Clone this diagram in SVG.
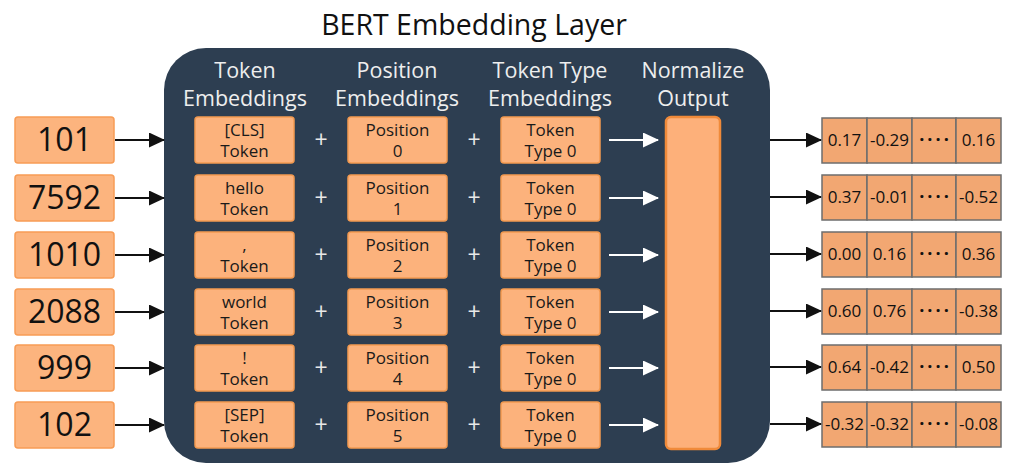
<svg xmlns="http://www.w3.org/2000/svg" width="1013" height="464" viewBox="0 0 1013 464">
  <defs>
    <style>
      text { font-family: "Open Sans", "Noto Sans", "DejaVu Sans", sans-serif; }
      .title { font-size: 28.5px; fill: #111; text-anchor: middle; }
      .head { font-size: 21.5px; fill: #eeeeee; text-anchor: middle; }
      .inbox { fill: #fcb47e; stroke: #f79c55; stroke-width: 1.5; }
      .innum { font-size: 32px; fill: #111; text-anchor: middle; }
      .emb { fill: #fcb27c; stroke: #f39a50; stroke-width: 1.5; }
      .embtxt { font-size: 17px; fill: #1a1a1a; text-anchor: middle; }
      .plus { font-size: 23px; fill: #e8e8e8; text-anchor: middle; }
      .norm { fill: #fdb07a; stroke: #f08a3a; stroke-width: 2.5; }
      .cell { fill: #f2a772; stroke: #6e6e6e; stroke-width: 1.5; }
      .celltxt { font-size: 17px; fill: #111; text-anchor: middle; }
      .dots { font-size: 18px; font-weight: bold; fill: #111; text-anchor: middle; letter-spacing: 3px; }
      .blk { stroke: #111; stroke-width: 2; fill: none; }
      .wht { stroke: #ffffff; stroke-width: 2; fill: none; }
    </style>
    <marker id="ah-black" markerWidth="16" markerHeight="15" refX="15" refY="7.5" orient="auto" markerUnits="userSpaceOnUse">
      <path d="M0,0 L16,7.5 L0,15 Z" fill="#111"/>
    </marker>
    <marker id="ah-white" markerWidth="16" markerHeight="15" refX="15" refY="7.5" orient="auto" markerUnits="userSpaceOnUse">
      <path d="M0,0 L16,7.5 L0,15 Z" fill="#ffffff"/>
    </marker>
  </defs>

  <rect width="1013" height="464" fill="#ffffff"/>

  <!-- layer panel -->
  <g id="panel">
    <rect x="164" y="48" width="606" height="415" rx="42" ry="42" fill="#2d3e51"/>
    <text class="title" x="474" y="35">BERT Embedding Layer</text>
    <text class="head" x="245" y="78">Token</text>
    <text class="head" x="245" y="106">Embeddings</text>
    <text class="head" x="397" y="78">Position</text>
    <text class="head" x="397" y="106">Embeddings</text>
    <text class="head" x="550" y="78">Token Type</text>
    <text class="head" x="550" y="106">Embeddings</text>
    <text class="head" x="693" y="78">Normalize</text>
    <text class="head" x="693" y="106">Output</text>
  </g>

  <!-- input ids -->
  <g id="inputs">
    <g id="in0"><rect class="inbox" x="15" y="117" width="99" height="46" rx="3"/><text class="innum" x="64.5" y="151">101</text></g>
    <g id="in1"><rect class="inbox" x="15" y="175" width="99" height="46" rx="3"/><text class="innum" x="64.5" y="209">7592</text></g>
    <g id="in2"><rect class="inbox" x="15" y="232" width="99" height="46" rx="3"/><text class="innum" x="64.5" y="266">1010</text></g>
    <g id="in3"><rect class="inbox" x="15" y="289" width="99" height="46" rx="3"/><text class="innum" x="64.5" y="323">2088</text></g>
    <g id="in4"><rect class="inbox" x="15" y="345" width="99" height="46" rx="3"/><text class="innum" x="64.5" y="379">999</text></g>
    <g id="in5"><rect class="inbox" x="15" y="402" width="99" height="46" rx="3"/><text class="innum" x="64.5" y="436">102</text></g>
  </g>

  <!-- token embeddings -->
  <g id="token-emb">
    <g id="tok0"><rect class="emb" x="195" y="117" width="99" height="46" rx="3"/><text class="embtxt" x="244.5" y="136">[CLS]</text><text class="embtxt" x="244.5" y="157">Token</text></g>
    <g id="tok1"><rect class="emb" x="195" y="175" width="99" height="46" rx="3"/><text class="embtxt" x="244.5" y="194">hello</text><text class="embtxt" x="244.5" y="215">Token</text></g>
    <g id="tok2"><rect class="emb" x="195" y="232" width="99" height="46" rx="3"/><text class="embtxt" x="244.5" y="251">,</text><text class="embtxt" x="244.5" y="272">Token</text></g>
    <g id="tok3"><rect class="emb" x="195" y="289" width="99" height="46" rx="3"/><text class="embtxt" x="244.5" y="308">world</text><text class="embtxt" x="244.5" y="329">Token</text></g>
    <g id="tok4"><rect class="emb" x="195" y="345" width="99" height="46" rx="3"/><text class="embtxt" x="244.5" y="364">!</text><text class="embtxt" x="244.5" y="385">Token</text></g>
    <g id="tok5"><rect class="emb" x="195" y="402" width="99" height="46" rx="3"/><text class="embtxt" x="244.5" y="421">[SEP]</text><text class="embtxt" x="244.5" y="442">Token</text></g>
  </g>

  <!-- position embeddings -->
  <g id="pos-emb">
    <g id="pos0"><rect class="emb" x="348" y="117" width="99" height="46" rx="3"/><text class="embtxt" x="397.5" y="136">Position</text><text class="embtxt" x="397.5" y="157">0</text></g>
    <g id="pos1"><rect class="emb" x="348" y="175" width="99" height="46" rx="3"/><text class="embtxt" x="397.5" y="194">Position</text><text class="embtxt" x="397.5" y="215">1</text></g>
    <g id="pos2"><rect class="emb" x="348" y="232" width="99" height="46" rx="3"/><text class="embtxt" x="397.5" y="251">Position</text><text class="embtxt" x="397.5" y="272">2</text></g>
    <g id="pos3"><rect class="emb" x="348" y="289" width="99" height="46" rx="3"/><text class="embtxt" x="397.5" y="308">Position</text><text class="embtxt" x="397.5" y="329">3</text></g>
    <g id="pos4"><rect class="emb" x="348" y="345" width="99" height="46" rx="3"/><text class="embtxt" x="397.5" y="364">Position</text><text class="embtxt" x="397.5" y="385">4</text></g>
    <g id="pos5"><rect class="emb" x="348" y="402" width="99" height="46" rx="3"/><text class="embtxt" x="397.5" y="421">Position</text><text class="embtxt" x="397.5" y="442">5</text></g>
  </g>

  <!-- token type embeddings -->
  <g id="type-emb">
    <g id="typ0"><rect class="emb" x="501" y="117" width="99" height="46" rx="3"/><text class="embtxt" x="550.5" y="136">Token</text><text class="embtxt" x="550.5" y="157">Type 0</text></g>
    <g id="typ1"><rect class="emb" x="501" y="175" width="99" height="46" rx="3"/><text class="embtxt" x="550.5" y="194">Token</text><text class="embtxt" x="550.5" y="215">Type 0</text></g>
    <g id="typ2"><rect class="emb" x="501" y="232" width="99" height="46" rx="3"/><text class="embtxt" x="550.5" y="251">Token</text><text class="embtxt" x="550.5" y="272">Type 0</text></g>
    <g id="typ3"><rect class="emb" x="501" y="289" width="99" height="46" rx="3"/><text class="embtxt" x="550.5" y="308">Token</text><text class="embtxt" x="550.5" y="329">Type 0</text></g>
    <g id="typ4"><rect class="emb" x="501" y="345" width="99" height="46" rx="3"/><text class="embtxt" x="550.5" y="364">Token</text><text class="embtxt" x="550.5" y="385">Type 0</text></g>
    <g id="typ5"><rect class="emb" x="501" y="402" width="99" height="46" rx="3"/><text class="embtxt" x="550.5" y="421">Token</text><text class="embtxt" x="550.5" y="442">Type 0</text></g>
  </g>

  <!-- plus signs -->
  <g id="plus-signs">
    <text class="plus" x="321" y="148">+</text><text class="plus" x="474" y="148">+</text>
    <text class="plus" x="321" y="206">+</text><text class="plus" x="474" y="206">+</text>
    <text class="plus" x="321" y="263">+</text><text class="plus" x="474" y="263">+</text>
    <text class="plus" x="321" y="320">+</text><text class="plus" x="474" y="320">+</text>
    <text class="plus" x="321" y="376">+</text><text class="plus" x="474" y="376">+</text>
    <text class="plus" x="321" y="433">+</text><text class="plus" x="474" y="433">+</text>
  </g>

  <!-- normalization block -->
  <g id="normalize">
    <rect class="norm" x="666" y="117" width="54" height="332" rx="5"/>
  </g>

  <!-- output vectors -->
  <g id="outputs">
    <g id="out0">
      <rect class="cell" x="822" y="118" width="45" height="45"/><rect class="cell" x="867" y="118" width="45" height="45"/><rect class="cell" x="912" y="118" width="44" height="45"/><rect class="cell" x="956" y="118" width="45" height="45"/>
      <text class="celltxt" x="844.5" y="146">0.17</text><text class="celltxt" x="889.5" y="146">-0.29</text><text class="dots" x="935.5" y="146">····</text><text class="celltxt" x="978.5" y="146">0.16</text>
    </g>
    <g id="out1">
      <rect class="cell" x="822" y="175" width="45" height="45"/><rect class="cell" x="867" y="175" width="45" height="45"/><rect class="cell" x="912" y="175" width="44" height="45"/><rect class="cell" x="956" y="175" width="45" height="45"/>
      <text class="celltxt" x="844.5" y="203">0.37</text><text class="celltxt" x="889.5" y="203">-0.01</text><text class="dots" x="935.5" y="203">····</text><text class="celltxt" x="978.5" y="203">-0.52</text>
    </g>
    <g id="out2">
      <rect class="cell" x="822" y="232" width="45" height="45"/><rect class="cell" x="867" y="232" width="45" height="45"/><rect class="cell" x="912" y="232" width="44" height="45"/><rect class="cell" x="956" y="232" width="45" height="45"/>
      <text class="celltxt" x="844.5" y="260">0.00</text><text class="celltxt" x="889.5" y="260">0.16</text><text class="dots" x="935.5" y="260">····</text><text class="celltxt" x="978.5" y="260">0.36</text>
    </g>
    <g id="out3">
      <rect class="cell" x="822" y="289" width="45" height="45"/><rect class="cell" x="867" y="289" width="45" height="45"/><rect class="cell" x="912" y="289" width="44" height="45"/><rect class="cell" x="956" y="289" width="45" height="45"/>
      <text class="celltxt" x="844.5" y="317">0.60</text><text class="celltxt" x="889.5" y="317">0.76</text><text class="dots" x="935.5" y="317">····</text><text class="celltxt" x="978.5" y="317">-0.38</text>
    </g>
    <g id="out4">
      <rect class="cell" x="822" y="345" width="45" height="45"/><rect class="cell" x="867" y="345" width="45" height="45"/><rect class="cell" x="912" y="345" width="44" height="45"/><rect class="cell" x="956" y="345" width="45" height="45"/>
      <text class="celltxt" x="844.5" y="373">0.64</text><text class="celltxt" x="889.5" y="373">-0.42</text><text class="dots" x="935.5" y="373">····</text><text class="celltxt" x="978.5" y="373">0.50</text>
    </g>
    <g id="out5">
      <rect class="cell" x="822" y="402" width="45" height="45"/><rect class="cell" x="867" y="402" width="45" height="45"/><rect class="cell" x="912" y="402" width="44" height="45"/><rect class="cell" x="956" y="402" width="45" height="45"/>
      <text class="celltxt" x="844.5" y="430">-0.32</text><text class="celltxt" x="889.5" y="430">-0.32</text><text class="dots" x="935.5" y="430">····</text><text class="celltxt" x="978.5" y="430">-0.08</text>
    </g>
  </g>

  <!-- connectors -->
  <g id="connectors">
    <line class="blk" x1="115" y1="140" x2="164" y2="140" marker-end="url(#ah-black)"/>
    <line class="blk" x1="115" y1="198" x2="164" y2="198" marker-end="url(#ah-black)"/>
    <line class="blk" x1="115" y1="255" x2="164" y2="255" marker-end="url(#ah-black)"/>
    <line class="blk" x1="115" y1="312" x2="164" y2="312" marker-end="url(#ah-black)"/>
    <line class="blk" x1="115" y1="368" x2="164" y2="368" marker-end="url(#ah-black)"/>
    <line class="blk" x1="115" y1="425" x2="164" y2="425" marker-end="url(#ah-black)"/>

    <line class="wht" x1="609" y1="140" x2="658" y2="140" marker-end="url(#ah-white)"/>
    <line class="wht" x1="609" y1="198" x2="658" y2="198" marker-end="url(#ah-white)"/>
    <line class="wht" x1="609" y1="255" x2="658" y2="255" marker-end="url(#ah-white)"/>
    <line class="wht" x1="609" y1="312" x2="658" y2="312" marker-end="url(#ah-white)"/>
    <line class="wht" x1="609" y1="368" x2="658" y2="368" marker-end="url(#ah-white)"/>
    <line class="wht" x1="609" y1="425" x2="658" y2="425" marker-end="url(#ah-white)"/>

    <line class="blk" x1="770" y1="140" x2="821" y2="140" marker-end="url(#ah-black)"/>
    <line class="blk" x1="770" y1="197" x2="821" y2="197" marker-end="url(#ah-black)"/>
    <line class="blk" x1="770" y1="254" x2="821" y2="254" marker-end="url(#ah-black)"/>
    <line class="blk" x1="770" y1="311" x2="821" y2="311" marker-end="url(#ah-black)"/>
    <line class="blk" x1="770" y1="367" x2="821" y2="367" marker-end="url(#ah-black)"/>
    <line class="blk" x1="770" y1="424" x2="821" y2="424" marker-end="url(#ah-black)"/>
  </g>
</svg>
